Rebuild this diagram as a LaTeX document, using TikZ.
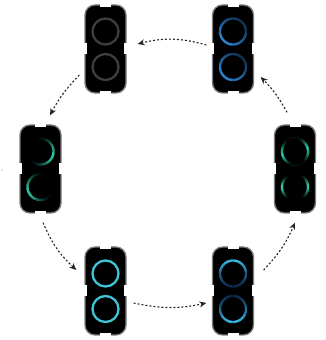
\documentclass[tikz,border=0pt]{standalone}
\usetikzlibrary{arrows.meta,calc}
\definecolor{devgray}{RGB}{125,125,125}
\definecolor{arrowgray}{RGB}{35,35,35}
\definecolor{ringgray}{RGB}{62,62,62}
\definecolor{ringblue}{RGB}{45,135,215}
\definecolor{ringteal}{RGB}{45,200,165}
\definecolor{ringcyan}{RGB}{62,197,215}
\definecolor{ringsky}{RGB}{60,190,235}
\definecolor{ringdeep}{RGB}{40,120,205}
\tikzset{
  dev/.style={rectangle, rounded corners=10pt, minimum width=41pt, minimum height=88pt,
    inner sep=0pt, fill=black, draw=devgray, line width=1.3pt},
  flow/.style={draw=arrowgray, line width=1.1pt, dash pattern=on 2pt off 2pt,
    -{Stealth[length=7pt,width=6pt]}},
  ringline/.style={line width=2.3pt},
}
\newcommand\notches[1]{%
  \fill[white] ([xshift=-5.5pt,yshift=0.7pt]#1.north) rectangle ([xshift=5.5pt,yshift=-2.6pt]#1.north);
  \fill[white] ([xshift=-5.5pt,yshift=-0.7pt]#1.south) rectangle ([xshift=5.5pt,yshift=2.6pt]#1.south);
  \fill[white] ([xshift=-0.7pt,yshift=-5.5pt]#1.west) rectangle ([xshift=2.6pt,yshift=5.5pt]#1.west);
  \fill[white] ([xshift=0.7pt,yshift=-5.5pt]#1.east) rectangle ([xshift=-2.6pt,yshift=5.5pt]#1.east);
  \coordinate (#1t) at ($(#1)+(0,17.5)$);
  \coordinate (#1b) at ($(#1)+(0,-18)$);
}
% gradient ring: center, colour, intensity formula in \a (0..100)
\newcommand\gring[3]{%
  \foreach \a in {0,4,...,356}{%
    \pgfmathsetmacro\p{max(0,min(100,#3))}%
    \draw[ringline, color=#2!\p!black] ($(#1)+(\a:13pt)$) arc[start angle=\a, end angle=\a+4.8, radius=13pt];
  }}
% two-colour gradient ring: center, c1, c2, mix formula q, intensity formula p
\newcommand\gringtwo[5]{%
  \foreach \a in {0,4,...,356}{%
    \pgfmathsetmacro\q{max(0,min(100,#4))}%
    \pgfmathsetmacro\p{max(0,min(100,#5))}%
    \draw[ringline, color=#2!\q!#3!\p!black] ($(#1)+(\a:13pt)$) arc[start angle=\a, end angle=\a+4.8, radius=13pt];
  }}
\begin{document}
\begin{tikzpicture}[x=1pt,y=1pt]
\useasboundingbox (0,0) rectangle (325,340);

% devices
\node[dev] (d1) at (105.5,291) {};
\node[dev] (d2) at (233,291) {};
\node[dev] (d3) at (40.5,171) {};
\node[dev] (d4) at (295,171) {};
\node[dev] (d5) at (105.5,49) {};
\node[dev] (d6) at (233,49) {};
\notches{d1}\notches{d2}\notches{d3}\notches{d4}\notches{d5}\notches{d6}

% d1: idle grey rings
\draw[ringline, ringgray] (d1t) circle (13pt);
\draw[ringline, ringgray] (d1b) circle (13pt);

% d2: blue rings
\gring{d2t}{ringblue}{70+30*cos(\a-225)}
\gring{d2b}{ringblue}{70+30*cos(\a-225)}

% d3: teal partial arcs
\gring{d3t}{ringteal}{100*((1+cos(\a+20))/2)^2.5}
\gring{d3b}{ringteal}{100*((1+cos(\a-200))/2)^2.5}

% d4: teal side arcs
\draw[ringteal!40!black, line width=0.6pt] (d4t) circle (14pt);
\gring{d4t}{ringteal}{100*abs(cos(\a-10))^4}
\gring{d4b}{ringteal}{100*abs(cos(\a))^5}

% d5: cyan rings
\draw[ringline, ringcyan] (d5t) circle (13pt);
\draw[ringline, ringcyan] (d5b) circle (13pt);

% d6: blue-cyan gradient rings
\gringtwo{d6t}{ringsky}{ringdeep}{50+50*sin(\a)}{68+32*sin(\a)}
\gringtwo{d6b}{ringsky}{ringdeep}{50-50*sin(\a)}{68-32*sin(\a)}

% connectors
\draw[flow] ([shift={(-5.5,4)}]d2.west) to[bend right=15] ([shift={(11,5)}]d1.east);
\draw[flow] ([shift={(-5,-26)}]d1.west) to[bend right=8] ([shift={(9.5,9)}]d3.north);
\draw[flow] ([shift={(2.5,-9)}]d3.south) to[bend right=12] ([shift={(-8,21)}]d5.west);
\draw[flow] ([shift={(7,-12)}]d5.east) to[bend right=12] ([shift={(-5.5,-12)}]d6.west);
\draw[flow] ([shift={(9.5,21)}]d6.east) to[bend right=10] ([shift={(0,-9)}]d4.south);
\draw[flow] ([shift={(-8,12)}]d4.north) to[bend right=8] ([shift={(6.5,-28)}]d2.east);

% stray speck
\fill[gray] (2,170) circle (0.6pt);
\end{tikzpicture}
\end{document}
